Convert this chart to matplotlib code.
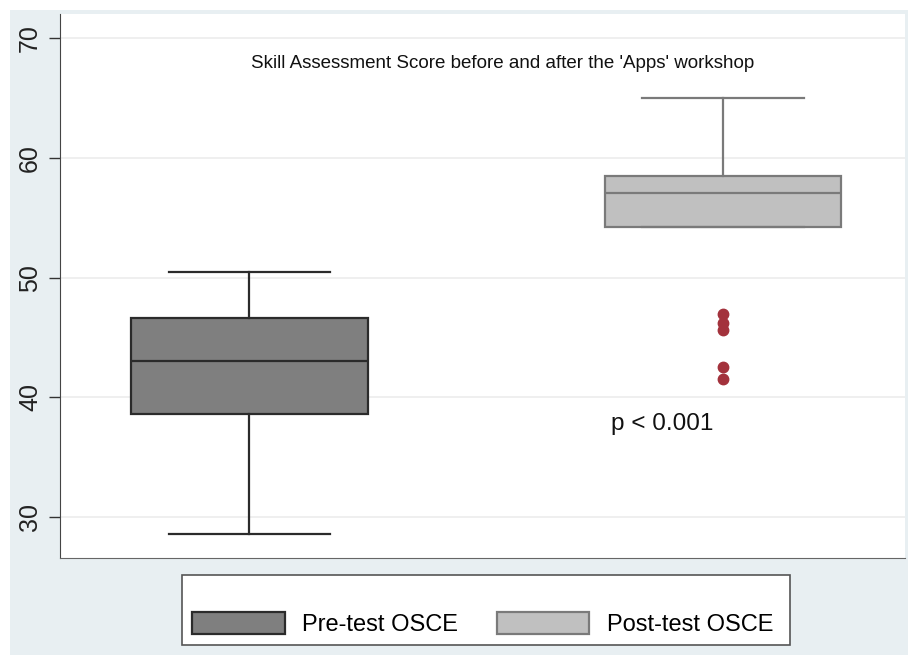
import matplotlib.pyplot as plt
from matplotlib.patches import Patch, Rectangle

plt.rcParams['font.family'] = ['Liberation Sans', 'DejaVu Sans']

groups = ["Pre-test OSCE", "Post-test OSCE"]
whislo = [28.6, 54.2]
q1 = [38.6, 54.2]
med = [43.0, 57.1]
q3 = [46.6, 58.5]
whishi = [50.5, 65.0]
outliers = [[], [47.0, 46.2, 45.6, 42.5, 41.5]]

fills = ["#7f7f7f", "#c0c0c0"]
edges = ["#2b2b2b", "#7a7a7a"]

fig = plt.figure(figsize=(9.08, 6.58), dpi=100)
fig.patches.append(Rectangle((10 / 908, 3 / 658), 1, 1 - 13 / 658, transform=fig.transFigure,
                             facecolor="#e8eff2", edgecolor="none", zorder=-10))

ax = fig.add_axes([60 / 908, 1 - 558 / 658, 845 / 908, 544 / 658])
ax.set_facecolor("white")

stats = []
for i in range(len(groups)):
    stats.append(dict(label=groups[i], whislo=whislo[i], q1=q1[i], med=med[i],
                      q3=q3[i], whishi=whishi[i], fliers=outliers[i]))

for i, s in enumerate(stats):
    ax.bxp([s], positions=[i + 1], widths=0.5, patch_artist=True, showfliers=True,
           boxprops=dict(facecolor=fills[i], edgecolor=edges[i], linewidth=1.6),
           medianprops=dict(color=edges[i], linewidth=1.6),
           whiskerprops=dict(color=edges[i], linewidth=1.6),
           capprops=dict(color=edges[i], linewidth=1.6),
           capwidths=0.34,
           flierprops=dict(marker="o", markerfacecolor="#a3323c", markeredgecolor="#a3323c",
                           markersize=7.5))

ax.set_xlim(0.601, 2.384)
ax.set_ylim(26.6, 72.0)
ax.set_yticks([30, 40, 50, 60, 70])
ax.set_xticks([])
for lab in ax.get_yticklabels():
    lab.set_rotation(90)
    lab.set_va("center")
ax.tick_params(axis="y", labelsize=18, colors="#333333", length=8, width=1,
               labelcolor="#222222", pad=5)
ax.yaxis.grid(True, color="#ececec", linewidth=1.2)
ax.set_axisbelow(True)
for side in ["top", "right"]:
    ax.spines[side].set_visible(False)
ax.spines["left"].set_color("#444444")
ax.spines["bottom"].set_color("#666666")

ax.text(1.534, 67.9, "Skill Assessment Score before and after the 'Apps' workshop",
        ha="center", va="center", fontsize=13.5, color="#111111")
ax.text(1.871, 37.8, "p < 0.001", ha="center", va="center", fontsize=17.5, color="#111111")

# legend box
fig.patches.append(Rectangle((182 / 908, 1 - 645 / 658), 608 / 908, 70 / 658,
                             transform=fig.transFigure, facecolor="white",
                             edgecolor="#555555", linewidth=1.2, zorder=1))
handles = [Patch(facecolor=fills[i], edgecolor=edges[i], linewidth=1.6) for i in range(2)]
fig.legend(handles, groups, loc="center", bbox_to_anchor=(483 / 908, 1 - 624 / 658),
           ncol=2, frameon=False, fontsize=17, handlelength=3.9, handleheight=1.1,
           handletextpad=0.75, columnspacing=1.65)

fig.savefig("out.png", dpi=100)
